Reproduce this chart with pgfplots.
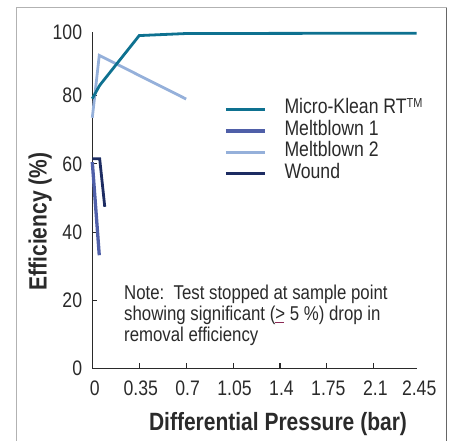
\documentclass[border=0pt]{standalone}
\usepackage{pgfplots}
\pgfplotsset{compat=1.18}
\usepackage{fontspec}
\setmainfont{Liberation Sans}[FakeStretch=0.84]
\definecolor{cMK}{HTML}{0E7190}
\definecolor{cMBa}{HTML}{4F5FA8}
\definecolor{cMBb}{HTML}{95B0DA}
\definecolor{cWD}{HTML}{1D2C62}
\definecolor{ax}{HTML}{2A2A2A}
\definecolor{ulc}{HTML}{8B2A55}
\begin{document}
\begin{tikzpicture}
\useasboundingbox (0,0) rectangle (451bp,441bp);
\draw[color=black!30, line width=1bp] (16.5bp,-1bp) -- (16.5bp,433.3bp) -- (446.7bp,433.3bp);
\draw[color=black!60, line width=1bp] (446.7bp,433.3bp) -- (446.7bp,-1bp);
\begin{axis}[
  at={(92.3bp,72.5bp)}, anchor=south west,
  scale only axis, width=324.4bp, height=336bp,
  xmin=0, xmax=2.42, ymin=0, ymax=98.5,
  axis x line=bottom, axis y line=left,
  axis line style={-, ax, line width=1.3bp},
  xtick={0.35,0.7,1.05,1.4,1.75,2.1},
  xticklabels={0.35,0.7,1.05,1.4,1.75,2.1},
  ytick={0,20,40,60,80},
  yticklabels={0,20,40,60,80},
  tick align=inside, major tick length=5bp,
  tick style={ax, line width=1.1bp},
  extra x ticks={0,2.42}, extra x tick labels={0,2.45},
  extra x tick style={major tick length=0pt, xticklabel style={xshift=1bp}},
  extra y ticks={98.5}, extra y tick labels={100},
  extra y tick style={major tick length=0pt},
  ticklabel style={font=\fontsize{21bp}{21bp}\selectfont, text=ax},
  /pgf/number format/assume math mode=true,
  xticklabel style={anchor=base, inner sep=0pt, yshift=-27.5bp, xshift=1.5bp},
  yticklabel style={anchor=east, inner sep=0pt, xshift=-10bp},
  legend style={at={(0.406,0.803)}, anchor=north west, draw=none, fill=none,
    inner sep=0pt, font=\fontsize{21bp}{21bp}\selectfont, text=ax,
    nodes={inner sep=0pt, text height=15bp, text depth=6.4bp},
    row sep=0pt, /tikz/every odd column/.style={column sep=18bp}},
  legend cell align=left,
  legend image code/.code={\draw[#1] (0bp,0bp) -- (39bp,0bp);},
  every axis plot/.append style={line width=2.8bp, no marks},
  clip=false,
]
\addlegendimage{color=cMK, line width=2.8bp}
\addlegendentry{Micro-Klean RT\raisebox{6bp}{\fontsize{13bp}{13bp}\selectfont TM}}
\addlegendimage{color=cMBa, line width=3.3bp}
\addlegendentry{Meltblown 1}
\addlegendimage{color=cMBb, line width=2.8bp}
\addlegendentry{Meltblown 2}
\addlegendimage{color=cWD, line width=2.8bp}
\addlegendentry{Wound}
% Meltblown 2
\addplot[color=cMBb, forget plot] coordinates {(0,73.5) (0.052,91.8) (0.70,79.0)};
% Meltblown 1
\addplot[color=cMBa, line width=3.3bp, forget plot] coordinates {(0,60.5) (0.052,33.2)};
% Wound
\addplot[color=cWD, forget plot] coordinates {(0,61.5) (0.055,61.5) (0.093,47.4)};
% Micro-Klean RT
\addplot[color=cMK, forget plot] coordinates {(0,79.1) (0.055,83.0) (0.35,97.6) (0.70,98.2) (2.42,98.3)};
\end{axis}
\node[anchor=base, font=\bfseries\fontsize{25bp}{25bp}\selectfont, text=ax] at (278bp,11bp) {Differential Pressure (bar)};
\node[rotate=90, anchor=base, font=\bfseries\fontsize{25bp}{25bp}\selectfont, text=ax] at (46.7bp,219.5bp) {Efficiency (\%)};
\begin{scope}[every node/.style={anchor=base west, inner sep=0pt, font=\fontsize{20bp}{21bp}\selectfont, text=ax}]
\node at (124bp,141bp) {Note:\ \ Test stopped at sample point};
\node at (124bp,120bp) {showing significant (\rlap{\textcolor{ulc}{\rule[-2.5bp]{9bp}{1bp}}}>\ 5 \%) drop in};
\node at (124bp,99bp) {removal efficiency};
\end{scope}
\end{tikzpicture}
\end{document}
